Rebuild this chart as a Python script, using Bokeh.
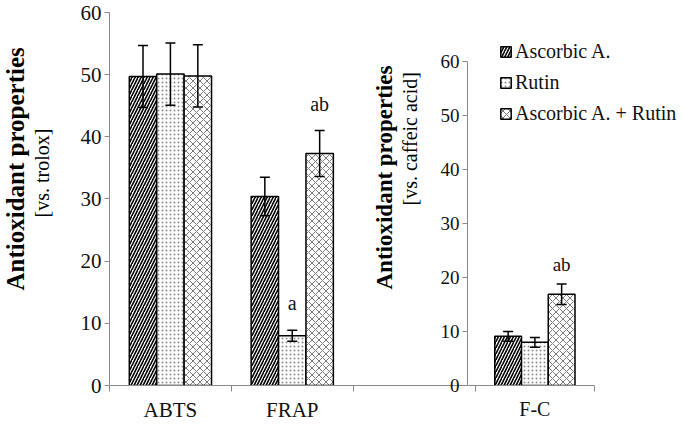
from bokeh.plotting import figure
from bokeh.models import (Range1d, FixedTicker, ColumnDataSource, Whisker, TeeHead,
                          Legend, LegendItem, LabelSet, Title)
from bokeh.layouts import row
from bokeh.embed import file_html
from bokeh.resources import INLINE
from bokeh.transform import dodge

# ---------------- data ----------------
groups_left = ["ABTS", "FRAP"]
groups_right = ["F-C"]
series = ["Ascorbic A.", "Rutin", "Ascorbic A. + Rutin"]

asc_left = [49.7, 30.4]
rut_left = [50.1, 8.0]
mix_left = [49.8, 37.3]
asc_left_err = [5.0, 3.1]
rut_left_err = [5.0, 0.9]
mix_left_err = [5.0, 3.7]
asc_left_sig = ["", ""]
rut_left_sig = ["", "a"]
mix_left_sig = ["", "ab"]

asc_right = [9.1]
rut_right = [8.0]
mix_right = [16.9]
asc_right_err = [0.9]
rut_right_err = [0.9]
mix_right_err = [1.9]
asc_right_sig = [""]
rut_right_sig = [""]
mix_right_sig = ["ab"]

y_ticks = [0, 10, 20, 30, 40, 50, 60]
left_title = "Antioxidant properties"
left_unit = "[vs. trolox]"
right_title = "Antioxidant properties"
right_unit = "[vs. caffeic acid]"

FONT = "Liberation Serif"
AXIS_COLOR = "#8a8a8a"

styles = [
    dict(fill_color="white", hatch_pattern="/", hatch_color="black", hatch_scale=6, hatch_weight=1.6),
    dict(fill_color="white", hatch_pattern=".", hatch_color="#8c8c8c", hatch_scale=4, hatch_weight=1),
    dict(fill_color="white", hatch_pattern="x", hatch_color="#7a7a7a", hatch_scale=7, hatch_weight=1),
]
offsets = [-0.225, 0.0, 0.225]
BAR_W = 0.225


def make_source(groups, vals, errs, sig, lab_off):
    return ColumnDataSource(dict(
        x=[i + 0.5 for i in range(len(groups))],
        top=vals,
        upper=[v + e for v, e in zip(vals, errs)],
        lower=[v - e for v, e in zip(vals, errs)],
        sig=sig,
        label_y=[v + e + lab_off for v, e in zip(vals, errs)],
    ))


def style_axes(p, groups, tick_size, cat_size):
    for ax in p.axis:
        ax.axis_line_color = AXIS_COLOR
        ax.axis_line_width = 1
        ax.major_label_text_font = FONT
        ax.major_label_text_color = "#111111"
    p.xgrid.visible = False
    p.ygrid.visible = False
    p.outline_line_color = None

    p.yaxis.ticker = FixedTicker(ticks=y_ticks)
    p.yaxis.bounds = (0, 60)
    p.yaxis.major_tick_out = 5
    p.yaxis.major_tick_in = 0
    p.yaxis.minor_tick_out = 0
    p.yaxis.minor_tick_in = 0
    p.yaxis.major_tick_line_color = AXIS_COLOR
    p.yaxis.major_label_standoff = 3
    p.yaxis.major_label_text_font_size = tick_size

    p.xaxis.ticker = FixedTicker(ticks=[i + 0.5 for i in range(len(groups))],
                                 minor_ticks=[float(i) for i in range(len(groups) + 1)])
    p.xaxis.major_label_overrides = {i + 0.5: g for i, g in enumerate(groups)}
    p.xaxis.major_tick_out = 0
    p.xaxis.major_tick_in = 0
    p.xaxis.minor_tick_out = 6
    p.xaxis.minor_tick_in = 0
    p.xaxis.minor_tick_line_color = AXIS_COLOR
    p.xaxis.major_label_standoff = 6
    p.xaxis.major_label_text_font_size = cat_size


def add_bars(p, groups, data, lab_off, sig_size):
    renderers = []
    for (vals, errs, sig), off, st in zip(data, offsets, styles):
        src = make_source(groups, vals, errs, sig, lab_off)
        r = p.vbar(x=dodge("x", off, range=p.x_range), top="top", bottom=0, width=BAR_W,
                   source=src, line_color="black", line_width=1.5, **st)
        renderers.append(r)
        w = Whisker(source=src, base=dodge("x", off, range=p.x_range), upper="upper", lower="lower",
                    line_color="black", line_width=1.5, level="overlay",
                    upper_head=TeeHead(size=10, line_color="black", line_width=1.5),
                    lower_head=TeeHead(size=10, line_color="black", line_width=1.5))
        p.add_layout(w)
        ls = LabelSet(source=src, x=dodge("x", off, range=p.x_range), y="label_y", text="sig",
                      text_align="center", text_baseline="middle", text_font=FONT,
                      text_font_size=sig_size, text_color="#111111")
        p.add_layout(ls)
    return renderers


def add_side_titles(p, spacer, unit_text, unit_size, unit_offset, bold_text, bold_size, bold_offset):
    p.add_layout(Title(text=" ", text_font_size="1px", standoff=spacer), "left")
    p.add_layout(Title(text=unit_text, align="left", vertical_align="middle", offset=unit_offset,
                       standoff=0, text_font=FONT, text_font_size=unit_size,
                       text_font_style="normal", text_color="black"), "left")
    p.add_layout(Title(text=bold_text, align="left", vertical_align="middle", offset=bold_offset,
                       standoff=0, text_font=FONT, text_font_size=bold_size,
                       text_font_style="bold", text_color="black"), "left")


# ---------------- left chart ----------------
p1 = figure(width=465, height=426, x_range=Range1d(0, 2.922), y_range=Range1d(0, 61.93),
            output_backend="svg", toolbar_location=None,
            min_border_left=107, min_border_right=0, min_border_top=0, min_border_bottom=41)
style_axes(p1, groups_left, "21px", "21px")
add_bars(p1, groups_left,
         [(asc_left, asc_left_err, asc_left_sig),
          (rut_left, rut_left_err, rut_left_sig),
          (mix_left, mix_left_err, mix_left_sig)], 4.3, "20px")
add_side_titles(p1, 21, left_unit, "20px", 168, left_title, "25px", 95)

# ---------------- right chart ----------------
p2 = figure(width=315, height=426, x_range=Range1d(-0.067, 1.767), y_range=Range1d(0, 71.3),
            output_backend="svg", toolbar_location=None,
            min_border_left=95, min_border_right=0, min_border_top=0, min_border_bottom=41)
style_axes(p2, groups_right, "19px", "20px")
p2.xaxis.bounds = (-0.067, 1.0)
p2.border_fill_alpha = 0
p2.background_fill_alpha = 0

rs = add_bars(p2, groups_right,
              [(asc_right, asc_right_err, asc_right_sig),
               (rut_right, rut_right_err, rut_right_sig),
               (mix_right, mix_right_err, mix_right_sig)], 3.6, "19px")
add_side_titles(p2, 13, right_unit, "20px", 180, right_title, "23px", 96)

legend = Legend(items=[LegendItem(label=s, renderers=[r]) for s, r in zip(series, rs)],
                location=(32, 260), orientation="vertical", padding=0, margin=0,
                spacing=8, glyph_width=13, glyph_height=13, label_standoff=3, label_height=23,
                border_line_color=None, background_fill_alpha=0,
                label_text_font=FONT, label_text_font_size="20px", label_text_color="#111111")
p2.add_layout(legend)

p2.margin = (0, 0, 0, -95)

layout = row(p1, p2)
layout.spacing = 0

with open("out.html", "w") as f:
    f.write(file_html(layout, INLINE))
